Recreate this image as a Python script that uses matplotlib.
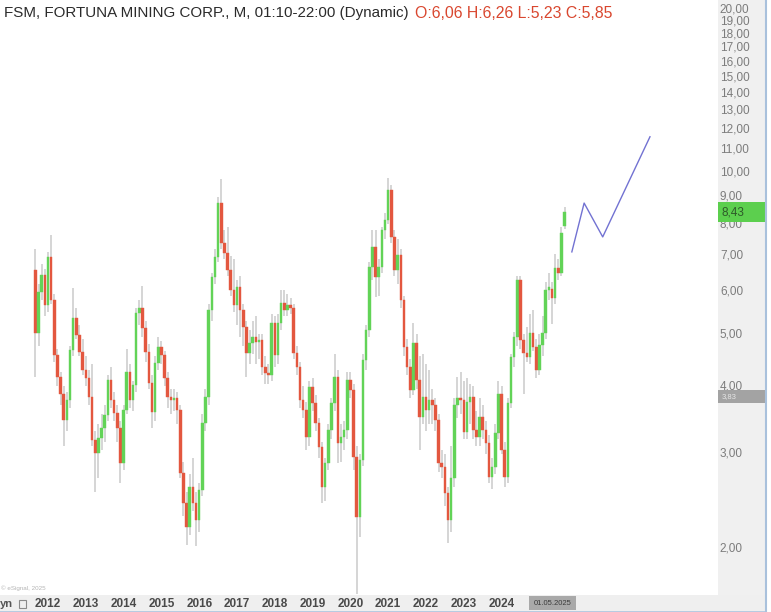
import matplotlib
matplotlib.use("Agg")
import matplotlib.pyplot as plt
import matplotlib.transforms as mtrans
from matplotlib.patches import Rectangle
import numpy as np

plt.rcParams['font.family'] = ['Liberation Sans', 'DejaVu Sans']

# ---------------- data (monthly candles, month index 0 = Jan 2012) ----------------
first_month = -4  # Sep 2011
opens = [6.58, 5.02, 5.99, 6.44, 5.66, 6.95, 5.78, 4.57, 4.16, 3.88, 3.46, 3.77, 4.67, 5.35, 4.98, 4.63,
         4.29, 4.15, 3.82, 3.18, 3.01, 3.21, 3.35, 3.54, 4.11, 3.77, 3.57, 3.35, 2.88, 3.62, 4.25, 3.77,
         4.02, 5.47, 5.59, 5.13, 4.63, 4.06, 3.59, 4.43, 4.73, 4.57, 4.15, 3.82, 3.77, 3.80, 3.62, 2.76,
         2.43, 2.19, 2.60, 2.43, 2.26, 2.57, 3.42, 3.82, 5.54, 6.39, 6.95, 8.76, 7.40, 7.07, 6.58, 6.04,
         5.66, 6.12, 5.54, 5.16, 4.61, 4.81, 4.94, 4.83, 4.87, 4.34, 4.24, 4.20, 5.25, 4.57, 5.25, 5.71,
         5.54, 5.66, 5.59, 4.61, 4.34, 3.77, 3.62, 3.22, 3.99, 3.72, 3.42, 3.09, 2.60, 2.88, 3.32, 3.72,
         4.16, 3.14, 3.22, 3.32, 4.11, 3.94, 2.96, 2.29, 2.92, 4.47, 5.09, 6.66, 7.25, 6.39, 6.66, 7.80,
         8.14, 9.26, 7.57, 6.58, 7.01, 5.78, 4.73, 4.34, 3.94, 4.81, 4.11, 3.51, 3.82, 3.62, 3.77, 3.69,
         3.46, 2.88, 2.83, 2.54, 2.26, 2.70, 3.69, 3.80, 3.77, 3.29, 3.74, 3.82, 3.32, 3.22, 3.51, 3.32,
         3.14, 2.72, 2.83, 3.28, 3.88, 3.05, 2.72, 3.72, 4.53, 4.94, 6.30, 4.87, 4.61, 4.53, 5.02, 4.73,
         4.29, 4.77, 5.02, 6.04, 6.06, 5.85, 6.63, 6.50, 7.95]
highs = [7.20, 6.20, 6.75, 6.60, 7.10, 7.65, 5.95, 4.70, 4.25, 4.00, 3.90, 4.75, 6.10, 5.60, 5.20, 4.90,
         4.55, 4.30, 4.40, 3.30, 3.40, 3.55, 3.70, 4.20, 4.35, 3.90, 3.70, 3.45, 3.70, 4.70, 4.40, 4.10,
         5.60, 5.80, 6.15, 5.30, 4.80, 4.20, 4.55, 4.95, 4.85, 4.65, 4.25, 3.95, 3.95, 3.90, 3.70, 2.90,
         2.55, 2.75, 2.95, 2.55, 2.65, 3.55, 3.95, 5.70, 6.50, 7.20, 9.00, 9.70, 7.80, 7.90, 7.00, 6.90,
         6.30, 6.40, 5.70, 5.30, 5.10, 5.30, 5.40, 5.00, 5.00, 4.55, 4.40, 5.45, 5.40, 5.45, 6.05, 6.05,
         5.95, 5.85, 5.70, 4.75, 4.45, 4.00, 3.75, 4.10, 4.15, 3.85, 3.50, 3.15, 2.95, 3.40, 3.80, 4.60,
         4.30, 3.40, 3.45, 4.25, 4.25, 4.05, 3.10, 3.00, 4.60, 5.20, 6.80, 7.80, 7.80, 6.90, 7.90, 8.40,
         9.75, 9.45, 7.80, 7.50, 7.20, 5.90, 4.90, 4.50, 5.25, 5.00, 4.55, 4.60, 4.40, 4.30, 3.95, 3.80,
         3.55, 3.05, 3.00, 2.60, 3.10, 3.80, 4.16, 4.25, 4.10, 4.15, 4.05, 4.00, 3.60, 3.80, 3.70, 3.45,
         3.25, 2.95, 3.40, 4.10, 4.00, 3.15, 3.80, 4.60, 5.05, 6.40, 6.40, 5.00, 5.15, 5.45, 5.55, 4.90,
         5.00, 5.40, 6.25, 6.50, 6.26, 7.05, 6.90, 7.90, 8.60]
lows = [4.16, 4.75, 5.80, 5.40, 5.50, 5.70, 4.45, 4.00, 3.70, 3.10, 3.30, 3.65, 4.55, 4.90, 4.55, 4.20,
        4.00, 3.70, 3.10, 2.55, 2.70, 3.05, 3.15, 3.45, 3.65, 3.45, 3.15, 2.65, 2.80, 3.55, 3.65, 3.60,
        3.90, 5.20, 4.95, 4.45, 3.95, 3.35, 3.45, 4.30, 4.40, 4.00, 3.65, 3.55, 3.60, 3.40, 2.70, 2.30,
        2.03, 2.12, 2.35, 2.02, 2.15, 2.50, 3.30, 3.70, 5.30, 6.20, 6.80, 7.20, 6.90, 6.40, 5.90, 5.50,
        5.20, 4.95, 4.75, 4.16, 4.40, 4.60, 4.40, 4.50, 4.20, 4.05, 4.05, 4.10, 4.35, 4.40, 5.10, 5.40,
        5.40, 5.45, 4.50, 4.20, 3.65, 3.50, 3.05, 3.10, 3.60, 3.30, 2.95, 2.43, 2.45, 2.80, 3.20, 3.60,
        2.88, 2.90, 3.05, 3.20, 3.80, 2.80, 1.65, 2.10, 2.85, 4.30, 4.95, 6.30, 5.87, 5.90, 6.50, 7.50,
        8.00, 7.40, 6.40, 6.20, 5.60, 4.55, 4.20, 3.80, 3.85, 3.95, 3.05, 3.40, 3.30, 3.40, 3.40, 3.30,
        2.78, 2.70, 2.40, 2.05, 2.15, 2.60, 3.50, 3.55, 3.20, 3.20, 3.40, 3.20, 3.10, 3.10, 3.20, 3.00,
        2.65, 2.58, 2.75, 3.20, 3.00, 2.60, 2.65, 3.65, 4.35, 4.75, 4.70, 3.88, 4.45, 4.40, 4.65, 4.15,
        4.20, 4.55, 4.90, 5.80, 5.23, 5.70, 6.30, 6.40, 7.85]
closes = [5.02, 5.99, 6.44, 5.66, 6.95, 5.78, 4.57, 4.16, 3.88, 3.46, 3.77, 4.67, 5.35, 4.98, 4.63, 4.29,
          4.15, 3.82, 3.18, 3.01, 3.21, 3.35, 3.54, 4.11, 3.77, 3.57, 3.35, 2.88, 3.62, 4.25, 3.77, 4.02,
          5.47, 5.59, 5.13, 4.63, 4.06, 3.59, 4.43, 4.73, 4.57, 4.15, 3.82, 3.77, 3.80, 3.62, 2.76, 2.43,
          2.19, 2.60, 2.43, 2.26, 2.57, 3.42, 3.82, 5.54, 6.39, 6.95, 8.76, 7.40, 7.07, 6.58, 6.04, 5.66,
          6.12, 5.54, 5.16, 4.61, 4.81, 4.94, 4.83, 4.87, 4.34, 4.24, 4.20, 5.25, 4.57, 5.25, 5.71, 5.54,
          5.66, 5.59, 4.61, 4.34, 3.77, 3.62, 3.22, 3.99, 3.72, 3.42, 3.09, 2.60, 2.88, 3.32, 3.72, 4.16,
          3.14, 3.22, 3.32, 4.11, 3.94, 2.96, 2.29, 2.92, 4.47, 5.09, 6.66, 7.25, 6.39, 6.66, 7.80, 8.14,
          9.26, 7.57, 6.58, 7.01, 5.78, 4.73, 4.34, 3.94, 4.81, 4.11, 3.51, 3.82, 3.62, 3.77, 3.69, 3.46,
          2.88, 2.83, 2.54, 2.26, 2.70, 3.69, 3.80, 3.77, 3.29, 3.74, 3.82, 3.32, 3.22, 3.51, 3.32, 3.14,
          2.72, 2.83, 3.28, 3.88, 3.05, 2.72, 3.72, 4.53, 4.94, 6.30, 4.87, 4.61, 4.53, 5.02, 4.73, 4.29,
          4.77, 5.02, 6.04, 6.12, 5.85, 6.63, 6.50, 7.70, 8.43]

years = list(range(2012, 2025))
year_months = [12 * (y - 2012) for y in years]
price_ticks = [2, 3, 4, 5, 6, 7, 8, 9, 10, 11, 12, 13, 14, 15, 16, 17, 18, 19, 20]
proj_months = [166.3, 170.2, 176.1, 191.1]
proj_prices = [7.11, 8.76, 7.58, 11.63]
last_price = 8.43
cross_price = 3.83
title_main = "FSM, FORTUNA MINING CORP., M, 01:10-22:00 (Dynamic)"
title_ohlc = "O:6,06 H:6,26 L:5,23 C:5,85"
cursor_date = "01.05.2025"

# ---------------- layout ----------------
W, H = 771, 612
def fx(px): return px / W
def fy(py): return 1 - py / H

fig = plt.figure(figsize=(W / 100, H / 100), dpi=100)
fig.patch.set_facecolor('white')

YMIN, YMAX = 1.64, 20.87
ax = fig.add_axes([0, fy(595), fx(718), 595 / H])
ax.set_yscale('log')
ax.set_ylim(YMIN, YMAX)
ax.set_xlim((0 - 48) / 3.15, (718 - 48) / 3.15)
ax.set_axis_off()

months = np.arange(first_month, first_month + len(closes))
o = np.array(opens); c = np.array(closes); h = np.array(highs); l = np.array(lows)
up = c >= o
green, red = '#62d357', '#e3573f'
ax.vlines(months, l, h, color='#d2d2d2', lw=1.3, zorder=1)
bottoms = np.minimum(o, c)
heights = np.maximum(np.abs(c - o), 0.02)
ax.bar(months, heights, bottom=bottoms, width=0.8,
       color=np.where(up, green, red), edgecolor=np.where(up, green, red), lw=0.3, zorder=2)

ax.plot(proj_months, proj_prices, color='#7272d2', lw=1.0, zorder=3)

# right price axis
axr = fig.add_axes([fx(718), fy(595), fx(765) - fx(718), 595 / H])
axr.set_facecolor('#f0f0f0')
axr.set_yscale('log'); axr.set_ylim(YMIN, YMAX)
axr.set_xticks([]); axr.set_yticks([]); axr.minorticks_off()
for s in axr.spines.values():
    s.set_visible(False)
tr = mtrans.blended_transform_factory(axr.transAxes, axr.transData)
for p in price_ticks:
    axr.text(0.04, p, f"{p:.2f}".replace('.', ','), transform=tr, ha='left', va='center',
             color='#7c7c7c', fontsize=8.5)
axr.add_patch(Rectangle((0, last_price / 1.045), 1, last_price * (1.045 - 1 / 1.045), transform=tr,
                        facecolor='#5ccf4e', edgecolor='none', zorder=3))
axr.text(0.08, last_price, f"{last_price:.2f}".replace('.', ','), transform=tr, ha='left', va='center',
         color='#2e5a2a', fontsize=8.5, zorder=4)
axr.add_patch(Rectangle((0, cross_price / 1.028), 1, cross_price * (1.028 - 1 / 1.028), transform=tr,
                        facecolor='#a3a3a3', edgecolor='none', zorder=3))
axr.text(0.08, cross_price, f"{cross_price:.2f}".replace('.', ','), transform=tr, ha='left', va='center',
         color='#e6e6e6', fontsize=5.5, zorder=4)

# bottom time axis strip
axb = fig.add_axes([0, fy(611), fx(765), 16 / H])
axb.set_facecolor('#efefef')
axb.set_xticks([]); axb.set_yticks([])
for s in axb.spines.values():
    s.set_visible(False)
trb = mtrans.blended_transform_factory(ax.transData, axb.transAxes)
for m, yv in zip(year_months, years):
    axb.text(m, 0.45, str(yv), transform=trb, ha='center', va='center', fontsize=8.5,
             fontweight='bold', color='#4a4a4a')
axb.add_patch(Rectangle((529 / 765, 0.05), (576 - 529) / 765, 0.9, transform=axb.transAxes,
                        facecolor='#a9a9a9', edgecolor='none'))
axb.text(552.5 / 765, 0.45, cursor_date, transform=axb.transAxes, ha='center', va='center',
         fontsize=5.5, color='#3a3a3a')
axb.text(0.0, 0.45, "yn", transform=axb.transAxes, ha='left', va='center', fontsize=8,
         fontweight='bold', color='#555555')
axb.add_patch(Rectangle((19 / 765, 0.2), 7 / 765, 0.5, transform=axb.transAxes,
                        facecolor='none', edgecolor='#8a8a8a', lw=0.8))

fig.text(fx(1), fy(588), "© eSignal, 2025", fontsize=4.5, color='#b5b5b5', va='center', ha='left')

# frame lines
fig.add_artist(plt.Line2D([fx(765.5), fx(765.5)], [0, 1], transform=fig.transFigure,
                          color='#a9c1dc', lw=1.5))
fig.add_artist(plt.Line2D([0, fx(766)], [fy(611.5), fy(611.5)], transform=fig.transFigure,
                          color='#a9c1dc', lw=1.2))

# title texts, fitted to measured widths
renderer = fig.canvas.get_renderer()
def fitted_text(x0, x1, yc, s, color, base=10.5):
    t = fig.text(fx(x0), fy(yc), s, fontsize=base, color=color, va='center', ha='left')
    w = t.get_window_extent(renderer).width
    t.set_fontsize(base * (x1 - x0) / w)
    return t
fitted_text(4, 413, 13, title_main, '#2b2b2b')
fitted_text(415, 614, 13, title_ohlc, '#d9472f')

fig.savefig('out.png', dpi=100, facecolor='white')
